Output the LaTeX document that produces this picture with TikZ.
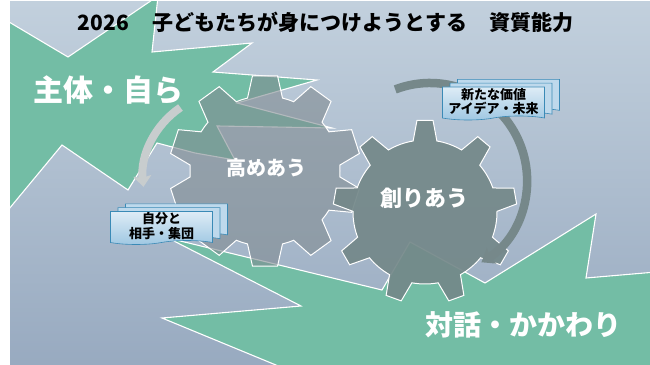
\documentclass[tikz,border=0pt]{standalone}
\usepackage{fontspec}
\setmainfont{Noto Sans CJK JP}
\usepackage{tikz}
\usetikzlibrary{arrows.meta, shapes.symbols, shadows}

\definecolor{burstgreen}{RGB}{115,189,165}
\definecolor{bgtop}{RGB}{194,208,221}
\definecolor{bgbot}{RGB}{152,170,192}
\definecolor{gearlight}{RGB}{128,139,145}
\definecolor{geardark}{RGB}{116,136,137}
\definecolor{arcgray}{RGB}{200,205,206}
\definecolor{arcdark}{RGB}{118,136,138}
\definecolor{papertop}{RGB}{222,236,246}
\definecolor{paperbot}{RGB}{158,199,226}
\definecolor{paperedge}{RGB}{58,138,182}

\begin{document}
\begin{tikzpicture}[x=1pt, y=1pt,
    burst/.style={fill=burstgreen, draw=white, line width=1.1pt, line join=miter},
    gearL/.style={fill=gearlight, fill opacity=0.6, draw=white, line width=1pt},
    gearR/.style={fill=geardark, fill opacity=0.92, draw=white, line width=1pt},
    arcL/.style={draw=arcgray, line width=8pt, -{Stealth[length=11pt, width=18pt, inset=2pt]}},
    arcR/.style={draw=arcdark, line width=8.5pt, -{Stealth[length=12pt, width=18pt, inset=2pt]}},
    paper/.style={tape, tape bend top=none, tape bend height=4pt, draw=paperedge, line width=0.6pt,
        top color=papertop, bottom color=paperbot, minimum width=102pt, minimum height=33pt,
        inner sep=1pt, align=center, font=\fontsize{13}{14.5}\selectfont\bfseries,
        double copy shadow={shadow xshift=7.5pt, shadow yshift=3.8pt, fill=papertop!50!paperbot, draw=paperedge}},
    biglabel/.style={text=white, font=\bfseries},
    gearlabel/.style={text=white, font=\bfseries}
]
    % slide background
    \fill[white] (0,0) rectangle (650,364);
    \shade[top color=bgtop, bottom color=bgbot] (10,0) rectangle (650,362);

    % bursts
    \begin{scope}
        \clip (10,0) rectangle (650,362);
        \draw[burst] (4,345) -- (68,307) -- (158,368) -- (152,312) -- (252,321) -- (213,292)
            -- (317,284) -- (237,261) -- (332,236) -- (217,238) -- (235,204) -- (195,211)
            -- (157,221) -- (128,174) -- (62,219) -- (4,149) -- cycle;
        \draw[burst] (168,126) -- (382,74) -- (410,122) -- (485,81) -- (596,150) -- (586,86)
            -- (656,92) -- (656,-6) -- (288,-6) -- (162,46) -- (301,58) -- cycle;
    \end{scope}

    % gears
    \coordinate (gearLc) at (265,193);
    \coordinate (gearRc) at (425,152);
    \begin{scope}[shift={(gearLc)}]
        \draw[gearL] (76:75) \foreach \a in {90,126,...,414} {
            -- (\a-13.5:75) -- (\a-7.5:96) -- (\a+7.5:96) -- (\a+13.5:75)
            arc[start angle=\a+13.5, end angle=\a+22.5, radius=75] } -- cycle;
    \end{scope}
    \begin{scope}[shift={(gearRc)}]
        \draw[gearR] (80:72) \foreach \a in {90,130,...,410} {
            -- (\a-9.5:72) -- (\a-5:92) -- (\a+5:92) -- (\a+9.5:72)
            arc[start angle=\a+9.5, end angle=\a+30.5, radius=72] } -- cycle;
    \end{scope}

    % curved arrows
    \coordinate (arcLc) at (228,186);
    \coordinate (arcRc) at (430,184);
    \draw[arcL] (arcLc) ++(124:85) arc[start angle=124, end angle=186, radius=85];
    \draw[arcR] (arcRc) ++(111:97) arc[start angle=111, end angle=-58, radius=97];

    % document stacks
    \node[paper] (boxSelf) at (161.5,138) {自分と\\相手・集団};
    \node[paper] (boxValue) at (493.5,262.5) {新たな価値\\アイデア・未来};

    % texts
    \node[font=\fontsize{21}{23}\selectfont\bfseries] (title) at (325.5,342)
        {2026\hspace{24pt}子どもたちが身につけようとする\hspace{22pt}資質能力};
    \node[biglabel, font=\fontsize{30}{32}\selectfont\bfseries] (lblSelf) at (108,274) {主体・自ら};
    \node[biglabel, font=\fontsize{28}{30}\selectfont\bfseries] (lblDialog) at (523,39) {対話・かかわり};
    \node[gearlabel, font=\fontsize{20}{22}\selectfont\bfseries] (lblRaise) at (266,196) {高めあう};
    \node[gearlabel, font=\fontsize{22}{24}\selectfont\bfseries] (lblCreate) at (424,166) {創りあう};
\end{tikzpicture}
\end{document}
